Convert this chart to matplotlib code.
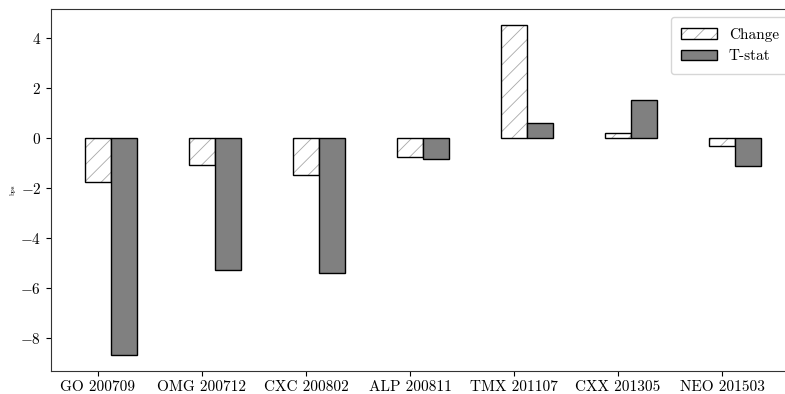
import numpy as np
import matplotlib
matplotlib.use('Agg')
import matplotlib.pyplot as plt

plt.rcParams['font.family'] = ['cmr10', 'DejaVu Serif']
plt.rcParams['mathtext.fontset'] = 'cm'
plt.rcParams['axes.formatter.use_mathtext'] = True
plt.rcParams['axes.unicode_minus'] = True
plt.rcParams['hatch.linewidth'] = 0.6

events = ["GO 200709", "OMG 200712", "CXC 200802", "ALP 200811",
          "TMX 201107", "CXX 201305", "NEO 201503"]
change = [-1.75, -1.08, -1.48, -0.75, 4.52, 0.23, -0.31]
tstat = [-8.65, -5.28, -5.37, -0.83, 0.63, 1.52, -1.12]

x = np.arange(len(events))
w = 0.25

fig = plt.figure(figsize=(7.85, 3.94), dpi=100)
ax = fig.add_axes([51 / 785, 1 - 371 / 394, 744 / 785, 362 / 394])

# hatched fill drawn separately so the hatch can stay light grey
h1 = ax.bar(x, change, width=w, color='white', edgecolor='#a8a8a8', hatch='//', linewidth=0)
h2 = ax.bar(x, change, width=w, fill=False, edgecolor='black', linewidth=1.0)
h3 = ax.bar(x + w, tstat, width=w, color='#808080', edgecolor='black', linewidth=1.0)

ax.set_xticks(x)
ax.set_xticklabels(events, fontsize=11)
ax.tick_params(axis='y', labelsize=11)
ax.set_ylabel("bps", fontsize=5, labelpad=3)
for s in ax.spines.values():
    s.set_color('#333333')

ax.legend([(h1[0], h2[0]), h3[0]], ["Change", "T-stat"], loc='upper right',
          bbox_to_anchor=(1.003, 0.998), fontsize=11, borderpad=0.7, handlelength=2.3)

fig.savefig("out.png", dpi=100)
